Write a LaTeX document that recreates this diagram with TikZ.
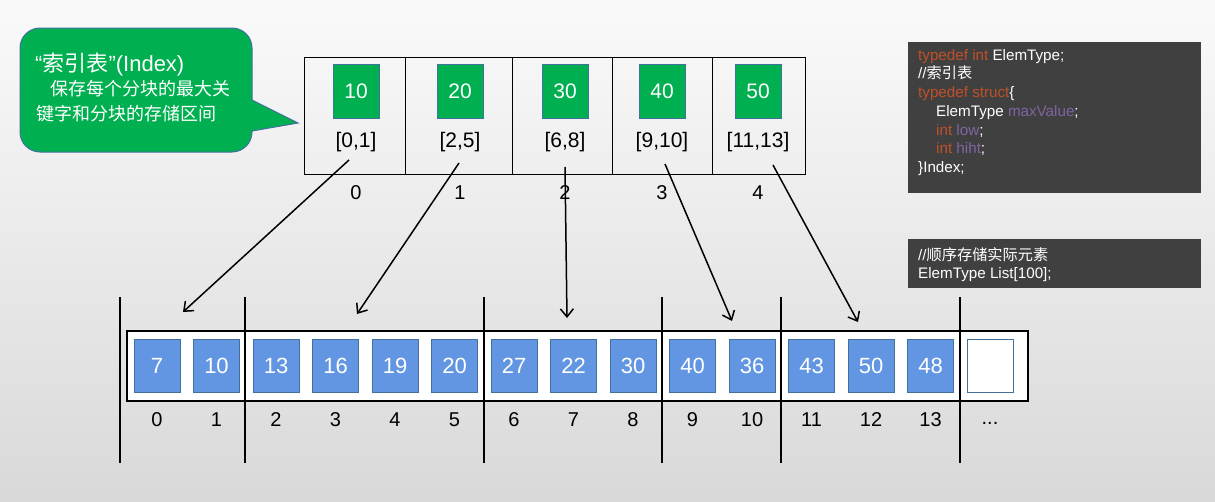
\documentclass[tikz,border=0pt]{standalone}
\usepackage{fontspec}
\setmainfont{Liberation Sans}
\newfontfamily\cjk{Noto Sans CJK SC}
\usetikzlibrary{arrows.meta}

\definecolor{keygreen}{RGB}{0,176,80}
\definecolor{elemblue}{RGB}{98,150,226}
\definecolor{edgeblue}{RGB}{65,113,156}
\definecolor{codegray}{RGB}{64,64,64}
\definecolor{kwred}{RGB}{192,80,40}
\definecolor{idpurple}{RGB}{128,100,162}

\newcommand{\pxfont}[2]{\fontsize{#1}{#2}\selectfont}
\newcommand{\kw}[1]{\textcolor{kwred}{#1}}
\newcommand{\fld}[1]{\textcolor{idpurple}{#1}}

\tikzset{
  keybox/.style={draw=edgeblue, fill=keygreen, minimum width=46pt, minimum height=54pt,
    inner sep=0pt, text=white, font=\pxfont{21}{24}},
  elembox/.style={draw=edgeblue, fill=elemblue, minimum width=46pt, minimum height=53pt,
    inner sep=0pt, text=white, font=\pxfont{22}{26}},
  numlbl/.style={inner sep=0pt, font=\pxfont{20}{24}},
  sepline/.style={line width=2.2pt},
  ptr/.style={-{Straight Barb[length=8pt,width=13pt]}, line width=1.5pt},
  codetext/.style={inner sep=0pt, text=white, align=left, font=\pxfont{15.2}{18.7}},
}

\begin{document}
\begin{tikzpicture}[x=1pt,y=-1pt]
  \useasboundingbox (0,0) rectangle (1215,501);
  \shade[top color=black!2, bottom color=black!15] (0,0) rectangle (1215,501);

  % callout
  \draw[edgeblue, fill=keygreen, line width=1pt] (20,90) [rounded corners=20pt]
    -- (20,28) -- (252,28) [sharp corners] -- (252,100) -- (298,123)
    -- (252,131) [rounded corners=20pt] -- (252,152) -- (20,152) -- cycle;
  \node[anchor=west, inner sep=0pt, text=white, font=\pxfont{22}{26}] (ctitle) at (35,65)
    {“{\cjk 索引表}”(Index)};
  \node[anchor=north west, inner sep=0pt, text=white, align=left, font=\pxfont{18}{25}\cjk]
    (cdesc) at (36,80) {\hspace{14pt}保存每个分块的最大关\\键字和分块的存储区间};

  % index table
  \draw[line width=1pt] (304,57) rectangle (805,174);
  \foreach \x in {405,512,612,712}
    \draw[line width=1pt] (\x,57) -- (\x,174);
  \foreach \v/\x/\rng [count=\k from 0] in
    {10/356/{[0,1]}, 20/460/{[2,5]}, 30/565/{[6,8]}, 40/662/{[9,10]}, 50/758/{[11,13]}}
  {
    \node[keybox] (key\k) at (\x,91) {\v};
    \node[numlbl, font=\pxfont{21}{24}] (rng\k) at (\x,142) {\rng};
    \node[numlbl] (ix\k) at (\x,193) {\k};
  }

  % element list
  \draw[line width=1.2pt, fill=white] (127,331) rectangle (1028,401);
  \foreach \x in {120,245,484,662,781,960}
    \draw[sepline] (\x,297) -- (\x,463);
  \foreach \v [count=\i from 0] in {7,10,13,16,19,20,27,22,30,40,36,43,50,48}
  {
    \node[elembox] (e\i) at ({157+59.5*\i},366) {\v};
    \node[numlbl] (n\i) at ({157+59.5*\i},420) {\i};
  }
  \node[elembox, fill=white] (e14) at (990,366) {};
  \node[numlbl] (more) at (990,423) {...};

  % pointers from index to blocks
  \foreach \sx/\sy/\tx/\ty [count=\k from 0] in
    {349/160/183/312, 459/163/357/314, 565/167/567/318, 665/164/732/321, 773/165/858/322}
  {
    \coordinate (s\k) at (\sx,\sy);
    \coordinate (t\k) at (\tx,\ty);
    \draw[ptr] (s\k) -- (t\k);
  }

  % code boxes
  \fill[codegray] (908,42) rectangle (1201,193);
  \node[codetext, anchor=north west] (code1) at (918,49)
    {\kw{typedef int} ElemType;\\
     //{\cjk 索引表}\\
     \kw{typedef struct}\{\\
     \hspace{18pt}ElemType \fld{maxValue};\\
     \hspace{18pt}\kw{int} \fld{low};\\
     \hspace{18pt}\kw{int} \fld{hiht};\\
     \}Index;};
  \fill[codegray] (908,239) rectangle (1201,288);
  \node[codetext, anchor=north west] (code2) at (918,247)
    {//{\cjk 顺序存储实际元素}\\
     ElemType List[100];};
\end{tikzpicture}
\end{document}
